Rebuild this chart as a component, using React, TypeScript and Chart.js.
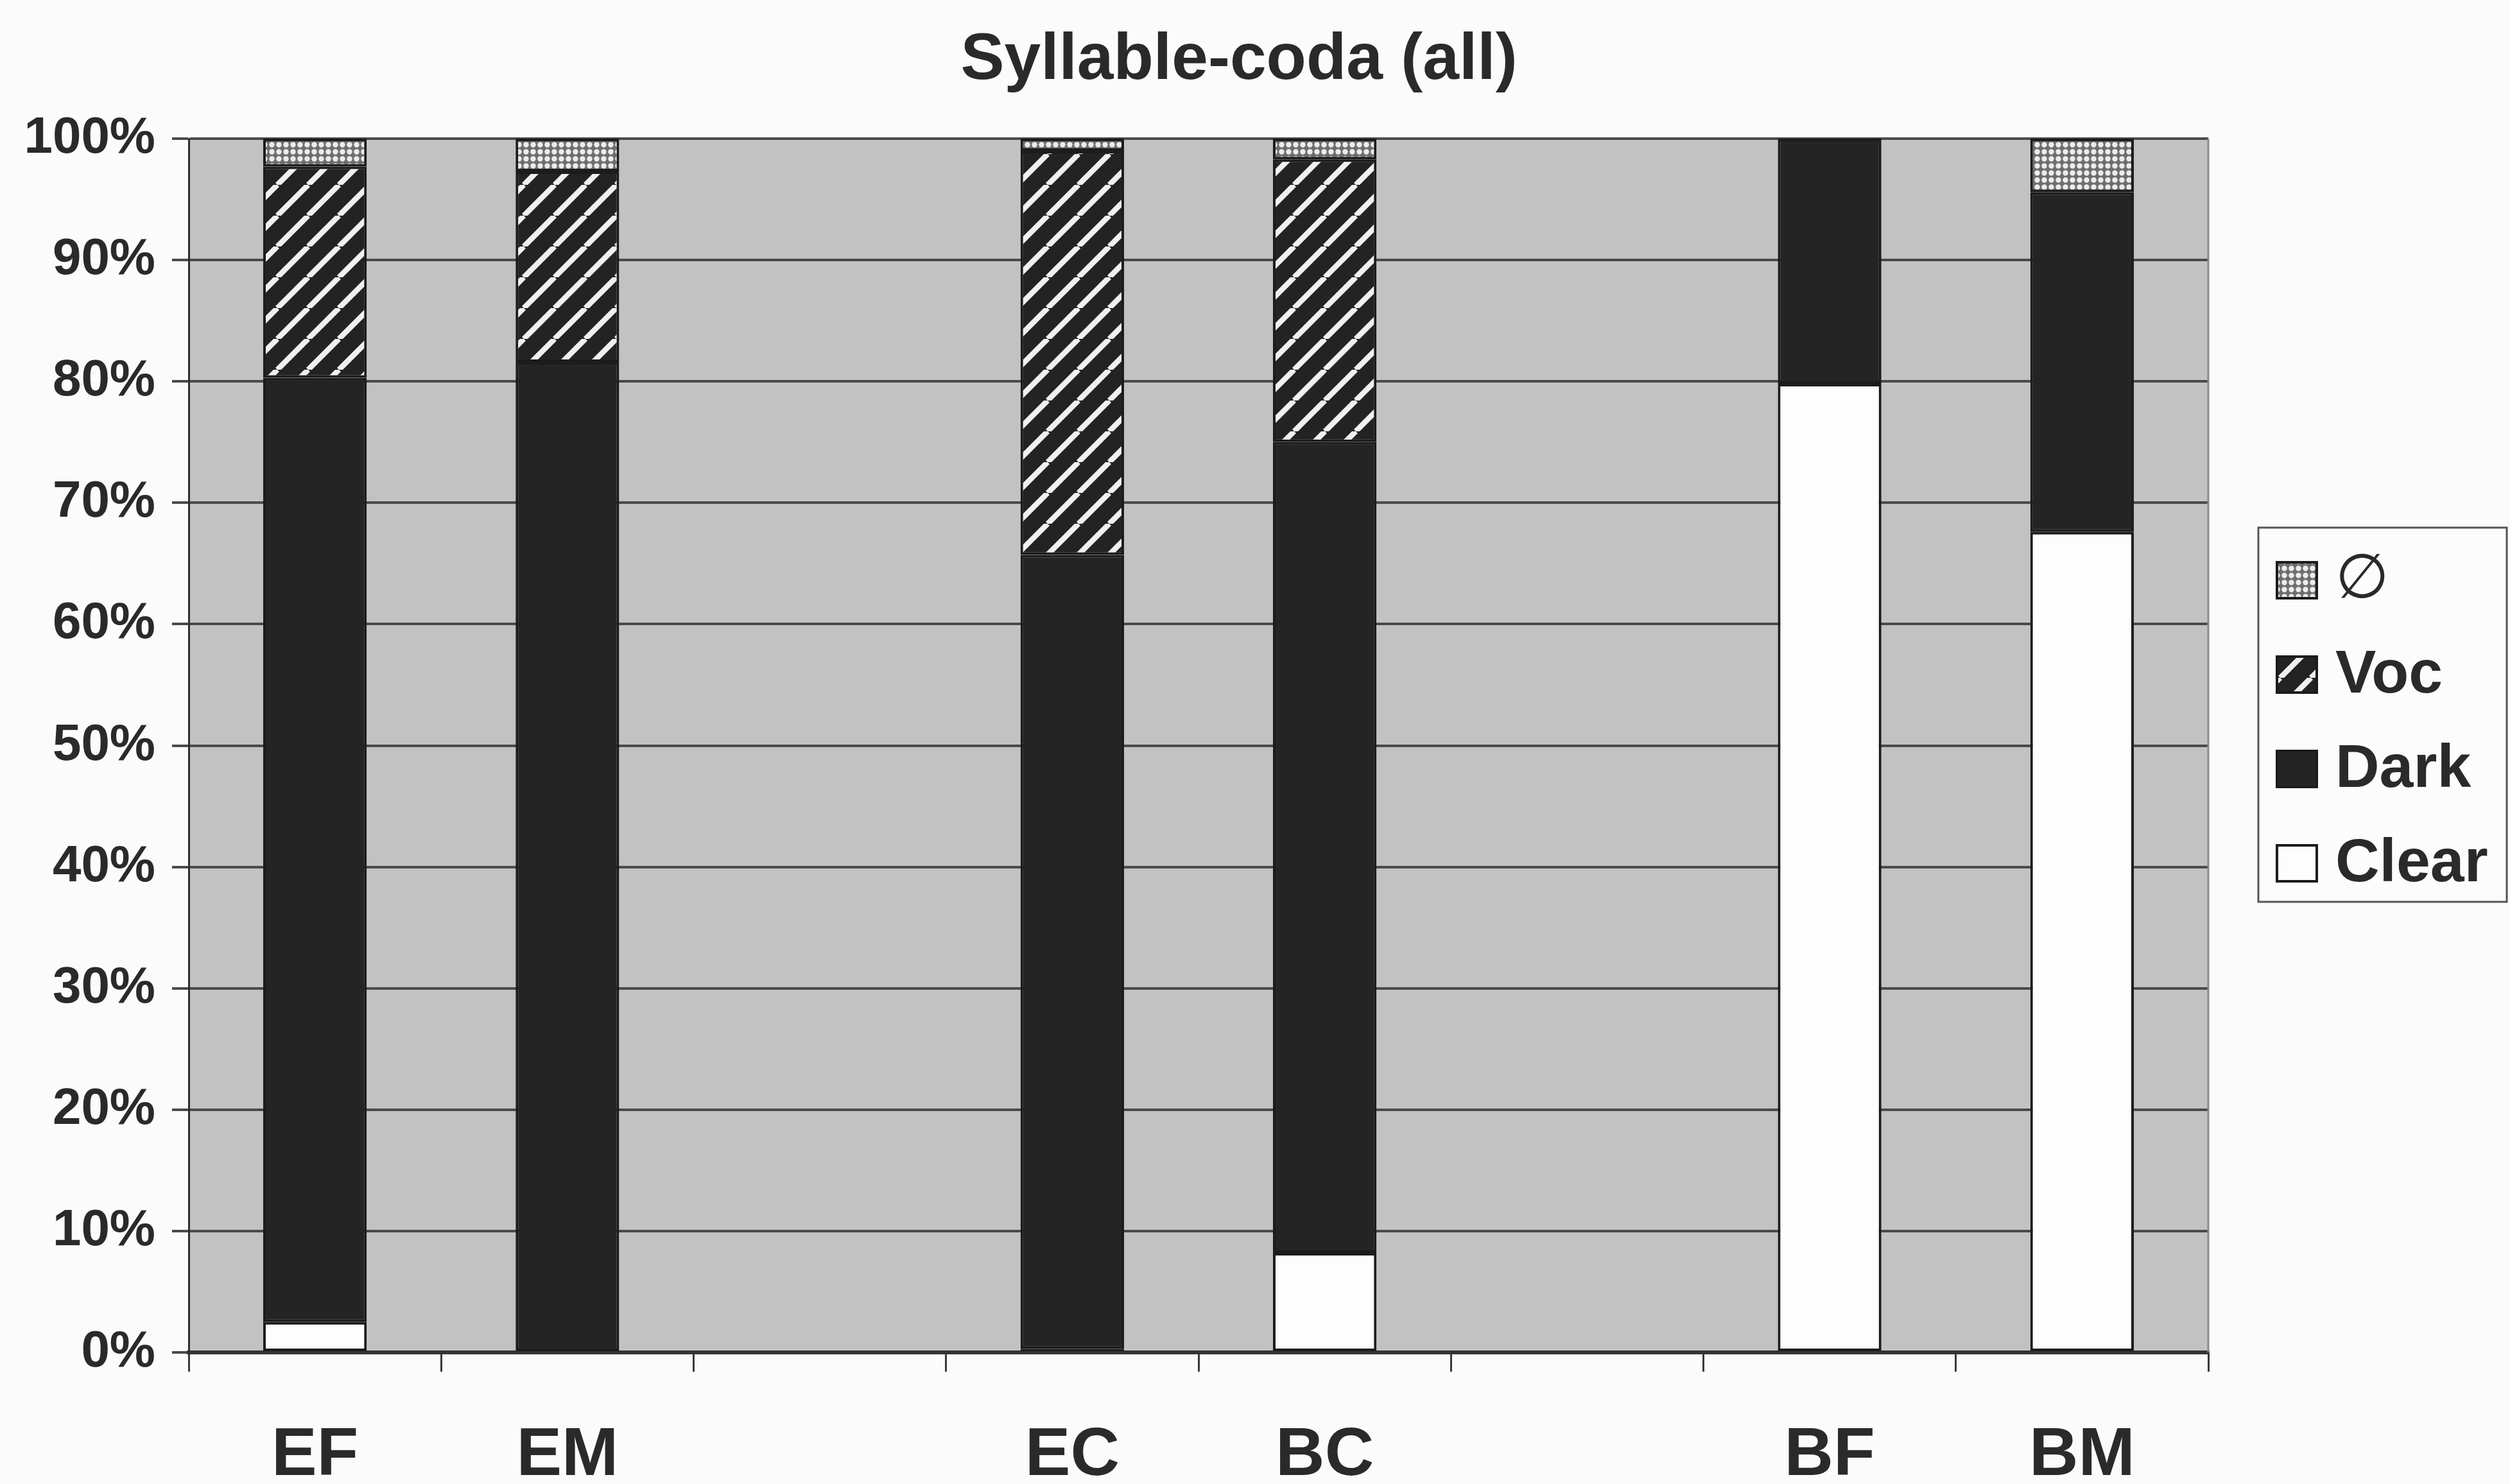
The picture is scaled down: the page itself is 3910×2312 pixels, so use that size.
import React, { useEffect, useRef } from "react";
import { Chart, registerables } from "chart.js";

Chart.register(...registerables);

// Speaker groups along the x axis (blank slots separate the three pairs)
const categories = ["EF", "EM", "", "EC", "BC", "", "BF", "BM"];

// Percentage of syllable-coda tokens per realisation, stacked bottom to top
const clearValues = [2.5, 0, null, 0.3, 8.2, null, 79.8, 67.6];
const darkValues = [77.8, 81.6, null, 65.4, 66.8, null, 20.2, 28.0];
const vocValues = [17.4, 15.7, null, 33.3, 23.3, null, 0, 0];
const zeroValues = [2.3, 2.7, null, 1.0, 1.7, null, 0, 4.4];

const seriesLabels = ["Clear", "Dark", "Voc", "\u2205"];
const titleText = "Syllable-coda (all)";

const FONT = "'Liberation Sans', Arial, Helvetica, sans-serif";
const INK = "#2a2a2a";

function makeStripePattern(ctx: CanvasRenderingContext2D): CanvasPattern {
  const s = 48;
  const c = document.createElement("canvas");
  c.width = s;
  c.height = s;
  const g = c.getContext("2d")!;
  g.fillStyle = "#232323";
  g.fillRect(0, 0, s, s);
  g.strokeStyle = "#f0f0f0";
  g.lineWidth = 8.5;
  for (let k = -1; k <= 1; k++) {
    g.beginPath();
    g.moveTo(k * s, s);
    g.lineTo(k * s + s, 0);
    g.stroke();
  }
  return ctx.createPattern(c, "repeat")!;
}

function makeDotPattern(ctx: CanvasRenderingContext2D): CanvasPattern {
  const w = 11;
  const h = 11;
  const c = document.createElement("canvas");
  c.width = w;
  c.height = h;
  const g = c.getContext("2d")!;
  g.fillStyle = "#6e6e6e";
  g.fillRect(0, 0, w, h);
  g.fillStyle = "#ececec";
  g.beginPath();
  g.ellipse(w / 2, h / 2, 4.2, 4.2, 0, 0, Math.PI * 2);
  g.fill();
  return ctx.createPattern(c, "repeat")!;
}

// Page background, grey plotting area, title and boxed legend
const decorPlugin = {
  id: "decor",
  beforeDraw(chart: any) {
    const { ctx, chartArea: a } = chart;
    ctx.save();
    ctx.fillStyle = "#fbfbfb";
    ctx.fillRect(0, 0, chart.width, chart.height);
    ctx.fillStyle = "#c2c2c2";
    ctx.fillRect(a.left, a.top, a.right - a.left, a.bottom - a.top);
    ctx.restore();
  },
  afterDraw(chart: any) {
    const { ctx, chartArea: a } = chart;
    ctx.save();

    // right edge of the plotting area
    ctx.strokeStyle = "#8a8a8a";
    ctx.lineWidth = 3;
    ctx.beginPath();
    ctx.moveTo(a.right, a.top);
    ctx.lineTo(a.right, a.bottom);
    ctx.stroke();

    // title
    ctx.fillStyle = INK;
    ctx.font = `bold 102px ${FONT}`;
    ctx.textAlign = "center";
    ctx.textBaseline = "alphabetic";
    ctx.fillText(titleText, 1930, 123);

    // legend box
    const boxL = 3518;
    const boxT = 822;
    const boxR = 3905;
    const boxB = 1405;
    ctx.fillStyle = "#fcfcfc";
    ctx.fillRect(boxL, boxT, boxR - boxL, boxB - boxT);
    ctx.strokeStyle = "#555555";
    ctx.lineWidth = 3;
    ctx.strokeRect(boxL, boxT, boxR - boxL, boxB - boxT);

    const datasets = chart.data.datasets;
    const rowGap = 147;
    const firstRow = 904;
    ctx.textAlign = "left";
    ctx.textBaseline = "middle";
    for (let i = 0; i < datasets.length; i++) {
      const ds = datasets[datasets.length - 1 - i];
      const cy = firstRow + i * rowGap;
      const sw = 62;
      const sh = 56;
      const sx = 3547;
      const sy = cy - sh / 2;
      ctx.fillStyle = ds.backgroundColor;
      ctx.fillRect(sx, sy, sw, sh);
      ctx.strokeStyle = "#1c1c1c";
      ctx.lineWidth = 4;
      ctx.strokeRect(sx, sy, sw, sh);
      ctx.fillStyle = INK;
      ctx.font = ds.label === "\u2205" ? `96px 'DejaVu Sans', ${FONT}` : `bold 95px ${FONT}`;
      ctx.fillText(ds.label, 3638, cy + 2);
    }
    ctx.restore();
  },
};

export default function App() {
  const canvasRef = useRef<HTMLCanvasElement | null>(null);

  useEffect(() => {
    const canvas = canvasRef.current;
    if (!canvas) return;
    const ctx = canvas.getContext("2d")!;
    const stripes = makeStripePattern(ctx);
    const dots = makeDotPattern(ctx);

    const seriesValues = [clearValues, darkValues, vocValues, zeroValues];
    const fills: any[] = ["#fdfdfd", "#242424", stripes, dots];

    const chart = new Chart(canvas, {
      type: "bar",
      data: {
        labels: categories,
        datasets: seriesLabels.map((label, i) => ({
          label,
          data: seriesValues[i],
          backgroundColor: fills[i],
          borderColor: "#1c1c1c",
          borderWidth: 4,
          borderSkipped: false,
          barPercentage: 0.41,
          categoryPercentage: 1.0,
        })),
      },
      options: {
        animation: false,
        responsive: true,
        maintainAspectRatio: false,
        devicePixelRatio: 1,
        layout: { padding: { top: 216, right: 470, bottom: 0, left: 0 } },
        plugins: {
          legend: { display: false },
          title: { display: false },
          tooltip: { enabled: false },
        },
        scales: {
          x: {
            stacked: true,
            grid: {
              offset: true,
              drawOnChartArea: false,
              drawTicks: true,
              tickLength: 30,
              color: "#3a3a3a",
              lineWidth: 3,
            },
            border: { display: true, color: "#333333", width: 6 },
            ticks: {
              font: { family: FONT, weight: "bold", size: 106 },
              color: INK,
              padding: 68,
              maxRotation: 0,
              autoSkip: false,
            },
            afterFit: (s: any) => {
              s.height = 205;
            },
          },
          y: {
            stacked: true,
            min: 0,
            max: 100,
            ticks: {
              stepSize: 10,
              callback: (v: any) => `${v}%`,
              font: { family: FONT, weight: "bold", size: 80 },
              color: INK,
              padding: 26,
            },
            grid: {
              color: "#4a4a4a",
              lineWidth: 4,
              tickLength: 26,
            },
            border: { display: true, color: "#2e2e2e", width: 3 },
            afterFit: (s: any) => {
              s.width = 294;
            },
          },
        },
      },
      plugins: [decorPlugin],
    });

    return () => chart.destroy();
  }, []);

  return (
    <div style={{ position: "fixed", left: 0, top: 0, width: 3910, height: 2312 }}>
      <canvas ref={canvasRef} />
    </div>
  );
}
